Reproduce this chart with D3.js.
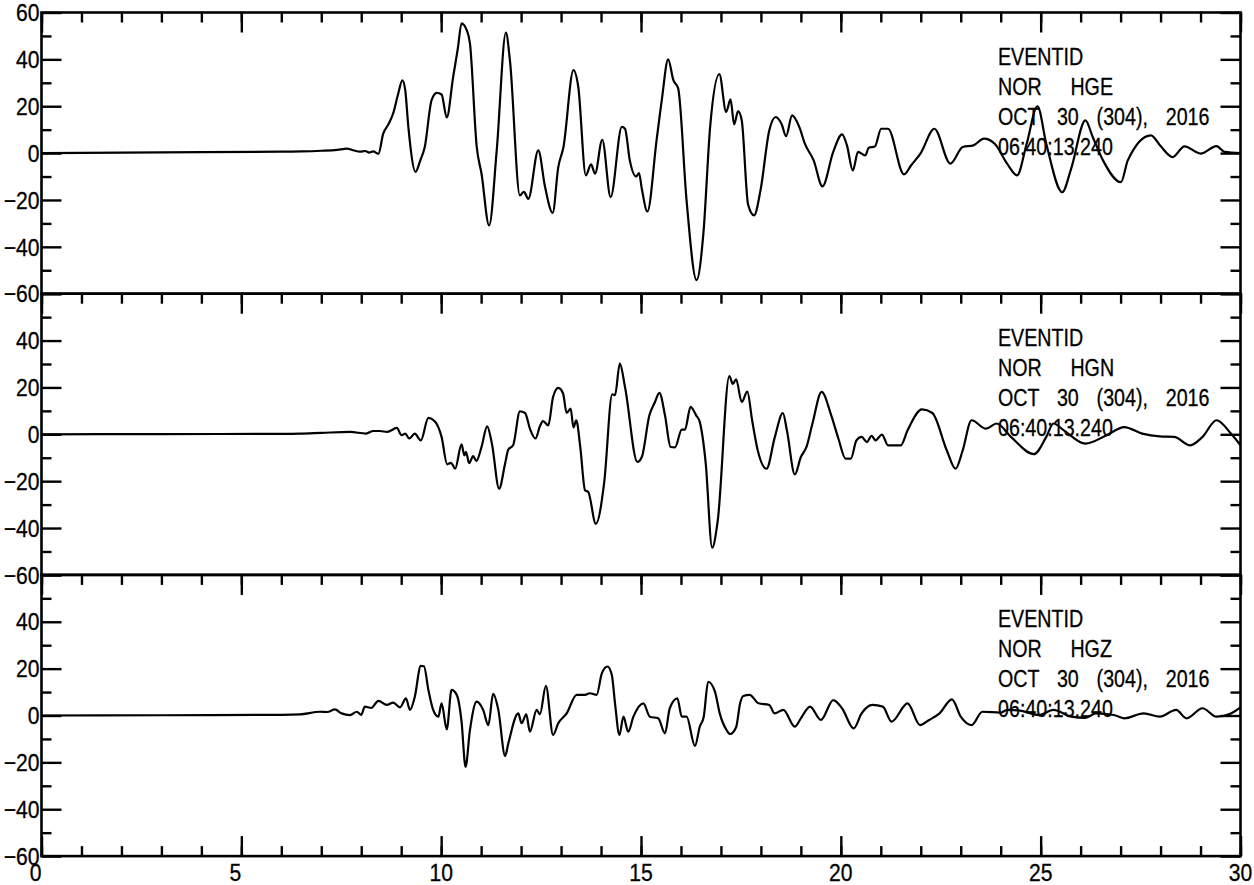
<!DOCTYPE html>
<html><head><meta charset="utf-8">
<script src="https://cdn.jsdelivr.net/npm/d3@7"></script>
<style>
html,body{margin:0;padding:0;background:#fff;}
svg{display:block;}
text{font-family:'Liberation Sans',Arial,sans-serif;font-size:24px;fill:#000;stroke:#000;stroke-width:0.3px;}
</style></head><body>
<svg id="chart" width="1254" height="885"></svg>
<script>
// ---------- DATA ----------
const hgeT = [0,2,4,6,6.5,7.0,7.4,7.64,7.8,7.97,8.1,8.2,8.3,8.43,8.55,8.68,8.80,8.92,9.03,9.10,9.18,9.36,9.48,9.59,9.76,9.89,10.01,10.14,10.30,10.42,10.51,10.64,10.72,10.89,11.01,11.20,11.39,11.62,11.72,11.97,12.07,12.18,12.43,12.60,12.79,12.93,13.06,13.31,13.43,13.62,13.75,13.85,14.03,14.24,14.52,14.60,14.72,14.88,14.95,15.02,15.16,15.39,15.52,15.68,15.81,15.93,16.14,16.39,16.56,16.73,16.96,17.13,17.24,17.33,17.43,17.52,17.68,17.83,17.99,18.21,18.37,18.52,18.63,18.78,18.96,19.10,19.32,19.54,19.81,20.03,20.15,20.30,20.43,20.61,20.70,20.85,21.01,21.18,21.58,21.76,22.0,22.34,22.74,23.05,23.32,23.58,23.85,24.16,24.41,24.65,24.92,25.14,25.54,25.76,26.12,26.30,26.56,27.01,27.18,27.76,28.0,28.30,28.60,29.0,29.40,29.6,30.0];
const hgeV = [0,0.2,0.4,0.6,0.7,1.0,1.4,1.9,1.2,0.6,0.9,0.2,0.7,-0.3,8.3,12.3,17,25,31,27,11,-8,-3,2.6,22.6,25.7,25,15.2,32.5,45,55.4,52.5,46.8,2.6,-8.8,-30.9,1.2,51.4,39.7,-18.1,-16.5,-19.5,1.2,-14.5,-25.5,-6,2.6,35.4,28.3,-9.5,-4.8,-8.8,5.7,-18.8,11.2,10.4,-3.1,-10,-8.5,-15.2,-24.9,5.5,22.6,40,31.1,27.6,-20.2,-54.2,-34.5,11.2,33.7,17.6,22.9,12.3,17.9,14,-22,-26.6,-15.9,9.7,15.4,12.3,7.2,16.1,11.2,4,-3.1,-14.2,0.5,8,3.5,-7.4,0.5,-1,2.3,2.8,10.4,10.4,-9.1,-5.2,0,10.4,-4.5,2.6,3.3,6.2,4,-4.5,-9.5,4,20,4,-16.7,-6.8,14,7,-3.1,-12.4,-3.1,7.6,3,-1.7,2.9,-0.2,3,0.5,0];

const hgnT = [0,3,6.0,6.47,7.0,7.72,8.12,8.3,8.47,8.65,8.89,9.01,9.10,9.20,9.34,9.49,9.68,9.84,10.01,10.15,10.25,10.35,10.51,10.58,10.62,10.70,10.80,10.88,11.01,11.15,11.27,11.45,11.60,11.68,11.80,11.97,12.10,12.22,12.36,12.47,12.55,12.68,12.80,12.93,13.05,13.14,13.24,13.31,13.38,13.48,13.60,13.68,13.87,14.08,14.28,14.35,14.47,14.60,14.91,15.02,15.21,15.35,15.46,15.60,15.74,15.85,16.02,16.10,16.24,16.38,16.47,16.62,16.78,16.92,17.21,17.30,17.38,17.52,17.66,17.78,17.92,18.14,18.35,18.55,18.65,18.85,19.0,19.14,19.29,19.52,19.76,19.94,20.12,20.25,20.39,20.52,20.65,20.77,20.87,21.03,21.18,21.50,21.67,22.03,22.29,22.65,22.87,23.05,23.27,23.63,23.90,24.25,24.83,25.14,25.32,25.58,26.12,26.65,27.09,27.54,27.98,28.34,28.74,29.05,29.40,29.76,30.0];
const hgnV = [0,0.1,0.2,0.3,0.6,1,0.3,1.4,1.4,1.0,2.7,-0.4,0.3,-1.8,0.3,-2.6,7,5.6,-1.1,-12.8,-12.2,-14.7,-4.3,-9,-7.5,-12.3,-9.3,-11.4,-5.4,3.4,-4,-23.2,-12.5,-6.5,-4.7,9.8,9.1,2.4,-1.8,3.4,5.6,3.8,15.9,19.8,17.4,9.1,11,2.9,6,-5.4,-23.9,-24.6,-38.2,-20.4,17.1,16.7,30.2,20.2,-11.8,-9.7,8.1,13.8,17.7,8.1,-5.4,-5.6,2,2,11.7,8.1,5.3,-12.5,-48.4,-36.8,24.8,21.5,23.5,13.8,18.2,6,-6.8,-14.7,-1.1,9.1,1.7,-17.1,-9.7,-5.4,4.6,18.1,8.1,-1.9,-10.4,-10.4,-2.6,-1.1,-3.3,-0.7,-2.6,-0.1,-4.7,-4.7,1.7,10.6,9.1,-6.8,-14.7,-6.8,6,2.4,4.6,-1,-8.5,-1.1,4.6,1.7,-4,-0.4,3.1,0.3,-0.9,-1.1,-4.7,-1.1,6,0.3,-4.7];

const hgzT = [0,3,6.0,6.47,6.97,7.15,7.34,7.51,7.72,7.89,8.0,8.09,8.25,8.43,8.64,8.80,8.97,9.12,9.22,9.34,9.49,9.57,9.68,9.80,9.93,10.01,10.14,10.26,10.39,10.51,10.61,10.72,10.89,11.05,11.18,11.30,11.43,11.60,11.68,11.93,12.01,12.13,12.22,12.39,12.47,12.62,12.80,12.93,13.14,13.39,13.60,13.72,13.89,14.02,14.16,14.27,14.35,14.46,14.56,14.68,14.81,15.06,15.22,15.43,15.60,15.72,15.91,16.02,16.14,16.35,16.47,16.57,16.68,16.85,16.97,17.14,17.23,17.38,17.48,17.56,17.72,17.94,18.21,18.34,18.56,18.85,19.0,19.23,19.50,19.81,20.03,20.32,20.52,20.79,21.05,21.27,21.67,21.98,22.21,22.47,22.78,23.0,23.27,23.54,24.0,24.16,24.52,24.96,25.32,25.76,26.12,26.38,26.83,27.09,27.58,27.98,28.39,28.65,29.05,29.40,29.76,30.0];
const hgzV = [0,0.1,0.3,0.5,1.6,1.5,2.6,0.9,0.2,1.6,0.3,3.8,3.2,6.2,4.5,5.5,3.5,7.3,2.4,8,21.2,21,10.9,2.4,-0.5,5.2,-5.9,10.9,8.8,-2.6,-21.9,-6.2,5.9,2.4,-4.1,9.2,2.4,-17.3,-11.9,0.9,-3.3,0.5,-6.9,2.4,0.5,12.6,-8.3,-3.3,0.9,8.8,8.8,9.5,8.8,18,20.9,17.3,5.2,-8.3,-0.5,-6.9,-0.5,5.2,-0.5,-1.2,-7.6,3.1,7.3,-0.5,-0.5,-13,-4.8,-0.5,14.4,10.2,0.9,-6.2,-7.9,-5,5.2,8.3,8.8,5.2,4.5,0.9,2.4,-4.8,-1.2,3.8,-1.9,6.6,3.1,-5.5,0.9,4.5,3.8,-2.6,5.2,-4.1,-1.9,0.9,6.9,-0.5,-4.1,1.6,1.2,2.4,2,0.2,2.4,-0.5,-1,0.9,0.2,-1.2,0.9,-0.5,2.4,-1.2,3.1,-0.5,0.9,3.5];

const channels = ["HGE","HGN","HGZ"];
const headerLines = ["EVENTID","NOR   {ch}","OCT 30 (304), 2016","06:40:13.240"];
const xLabels = [0,5,10,15,20,25,30];
const xMinorTicks = [0,1,2,3,4,5,6,7,8,9,10,11,12,13,14,15,16,17,18,19,20,21,22,23,24,25,26,27,28,29,30];
const yMajorTicks = [-60,-40,-20,0,20,40,60];
const yMinorTicks = [-50,-30,-10,10,30,50];
const yLabelsFirst = [60,40,20,0,-20,-40,-60];
const yLabelsOther = [40,20,0,-20,-40,-60];

// ---------- DRAW ----------
const series = [[hgeT,hgeV],[hgnT,hgnV],[hgzT,hgzV]];
const svg = d3.select('#chart');
const left = 41.5, right = 1240.5, top0 = 12.5, panelH = 281.2;
const SX_NUM = 0.88, SX_HDR = 0.82; // condensed lettering like the plotting font
const x = d3.scaleLinear().domain([0,30]).range([left,right]);
const fmt = v => v < 0 ? '\u2212' + Math.abs(v) : String(v);
const place = (px, py, sx) => `translate(${px},${py}) scale(${sx},1)`;
const wordSpacing = ['0px','5px','15px','0px'];

series.forEach((s, i) => {
  const y0 = top0 + i*panelH;
  const y = d3.scaleLinear().domain([-60,60]).range([y0+panelH, y0]);
  const g = svg.append('g');

  const pts = d3.zip(s[0], s[1]);
  g.append('path').datum(pts)
    .attr('fill','none').attr('stroke','#000').attr('stroke-width',2.2)
    .attr('stroke-linejoin','round')
    .attr('d', d3.line().x(d=>x(d[0])).y(d=>y(d[1])).curve(d3.curveMonotoneX));

  const tickStyle = sel => { sel.select('.domain').remove(); sel.selectAll('line').attr('stroke-width',2.4); sel.selectAll('text').remove(); };
  g.append('g').attr('transform',`translate(0,${y0})`)
    .call(d3.axisTop(x).tickValues(xMinorTicks).tickSize(-10).tickFormat('')).call(tickStyle);
  g.append('g').attr('transform',`translate(0,${y0})`)
    .call(d3.axisTop(x).tickValues(xLabels).tickSize(-20).tickFormat('')).call(tickStyle);
  if (i === 2) {
    g.append('g').attr('transform',`translate(0,${y0+panelH})`)
      .call(d3.axisBottom(x).tickValues(xMinorTicks).tickSize(-10).tickFormat('')).call(tickStyle);
    g.append('g').attr('transform',`translate(0,${y0+panelH})`)
      .call(d3.axisBottom(x).tickValues(xLabels).tickSize(-20).tickFormat('')).call(tickStyle);
  }
  g.append('g').attr('transform',`translate(${left},0)`)
    .call(d3.axisLeft(y).tickValues(yMajorTicks).tickSize(-20).tickFormat('')).call(tickStyle);
  g.append('g').attr('transform',`translate(${left},0)`)
    .call(d3.axisLeft(y).tickValues(yMinorTicks).tickSize(-10).tickFormat('')).call(tickStyle);
  g.append('g').attr('transform',`translate(${right},0)`)
    .call(d3.axisRight(y).tickValues(yMajorTicks).tickSize(-20).tickFormat('')).call(tickStyle);
  g.append('g').attr('transform',`translate(${right},0)`)
    .call(d3.axisRight(y).tickValues(yMinorTicks).tickSize(-10).tickFormat('')).call(tickStyle);

  g.append('rect').attr('x',left).attr('y',y0).attr('width',right-left).attr('height',panelH)
    .attr('fill','none').attr('stroke','#000').attr('stroke-width',2.6);

  const labs = i === 0 ? yLabelsFirst : yLabelsOther;
  g.selectAll('text.ylab').data(labs).join('text').attr('class','ylab')
    .attr('transform', d => place(left - 2, y(d) + 8.7, SX_NUM))
    .attr('text-anchor','end').text(fmt);

  g.selectAll('text.hdr').data(headerLines.map(l => l.replace('{ch}', channels[i]))).join('text')
    .attr('class','hdr').attr('transform', (d,k) => place(998, y0 + 52.5 + k*30, SX_HDR))
    .attr('xml:space','preserve')
    .style('white-space','pre').style('word-spacing', (d,k) => wordSpacing[k])
    .text(d => d);
});

svg.selectAll('text.xlab').data(xLabels).join('text').attr('class','xlab')
  .attr('transform', d => place(x(d) - (d < 10 ? 6 : 0), 881, SX_NUM))
  .attr('text-anchor','middle').text(d => String(d));
</script>
</body></html>
